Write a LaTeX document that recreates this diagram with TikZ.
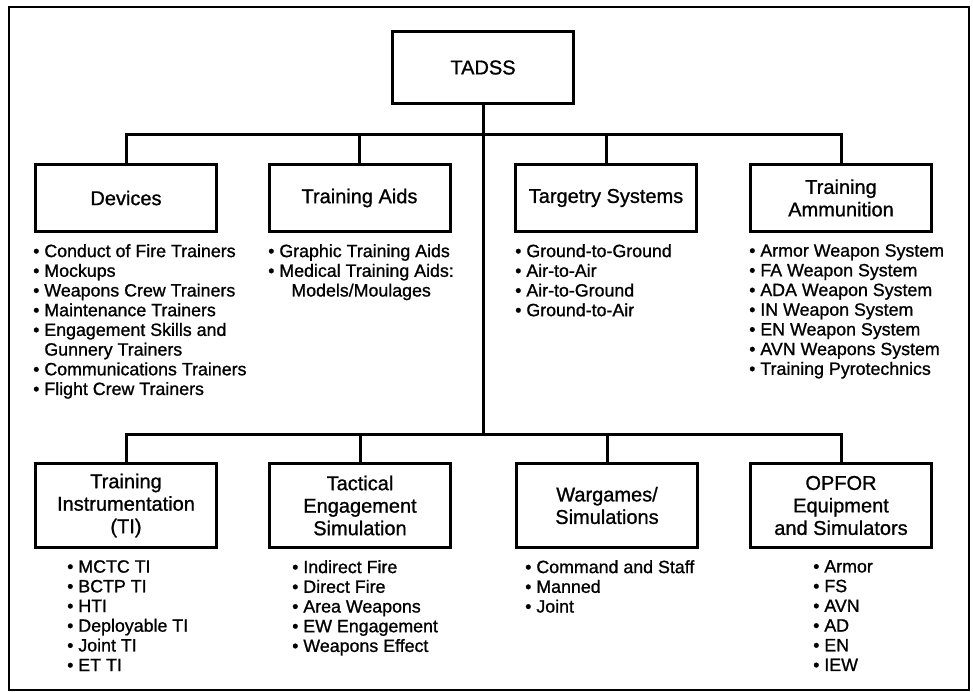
\documentclass[tikz,border=0pt]{standalone}
\usepackage{fontspec}
\setmainfont{Liberation Sans}[FakeBold=1.0]
\begin{document}
\begin{tikzpicture}[x=1pt,y=-1pt,
  box/.style={draw, line width=3pt, minimum width=181pt, align=center, inner sep=0pt, line join=miter,
    font=\fontsize{20}{22.5}\selectfont},
  topbox/.style={box, minimum height=67pt},
  botbox/.style={box, minimum height=84pt},
  conn/.style={line width=3pt, line join=miter},
  lst/.style={anchor=north west, align=left, inner sep=0pt, font=\fontsize{17.8}{19.7}\selectfont},
  frame/.style={line width=2pt}]
\useasboundingbox (0,0) rectangle (973,692);
\draw[frame] (9,7) rectangle (969,690);

\node[box, minimum height=72pt] (tadss) at (483,67.5) {TADSS};

\node[topbox] (dev)  at (126,198) {Devices};
\node[topbox] (aids) at (359.5,198) {Training Aids};
\node[topbox] (targ) at (606,198) {Targetry Systems};
\node[topbox] (ammo) at (841,198) {Training\\Ammunition};

\node[botbox] (ti)   at (126,505.5) {Training\\Instrumentation\\(TI)};
\node[botbox] (tes)  at (360,505.5) {Tactical\\Engagement\\Simulation};
\node[botbox] (war)  at (607,505.5) {Wargames/\\Simulations};
\node[botbox] (opf)  at (841,505.5) {OPFOR\\Equipment\\and Simulators};

\coordinate (tb) at (483,135);
\coordinate (bb) at (483,434);

\draw[conn] (tadss.south) -- (tadss.south |- bb);
\draw[conn] (dev.north) |- (ammo.north |- tb) -- (ammo.north);
\draw[conn] (aids.north) -- (aids.north |- tb);
\draw[conn] (targ.north) -- (targ.north |- tb);
\draw[conn] (ti.north) |- (opf.north |- bb) -- (opf.north);
\draw[conn] (tes.north) -- (tes.north |- bb);
\draw[conn] (war.north) -- (war.north |- bb);

\node[lst] (ldev) at (33,244) {• Conduct of Fire Trainers\\• Mockups\\• Weapons Crew Trainers\\• Maintenance Trainers\\• Engagement Skills and\\\phantom{• }Gunnery Trainers\\• Communications Trainers\\• Flight Crew Trainers};
\node[lst] (laids) at (268,244) {• Graphic Training Aids\\• Medical Training Aids:\\\phantom{• }\hspace{12pt}Models/Moulages};
\node[lst] (ltarg) at (515,244) {• Ground-to-Ground\\• Air-to-Air\\• Air-to-Ground\\• Ground-to-Air};
\node[lst] (lammo) at (749,244) {• Armor Weapon System\\• FA Weapon System\\• ADA Weapon System\\• IN Weapon System\\• EN Weapon System\\• AVN Weapons System\\• Training Pyrotechnics};

\node[lst] (lti) at (67,560) {• MCTC TI\\• BCTP TI\\• HTI\\• Deployable TI\\• Joint TI\\• ET TI};
\node[lst] (ltes) at (292,560) {• Indirect Fire\\• Direct Fire\\• Area Weapons\\• EW Engagement\\• Weapons Effect};
\node[lst] (lwar) at (525,560) {• Command and Staff\\• Manned\\• Joint};
\node[lst] (lopf) at (813,560) {• Armor\\• FS\\• AVN\\• AD\\• EN\\• IEW};
\end{tikzpicture}
\end{document}
